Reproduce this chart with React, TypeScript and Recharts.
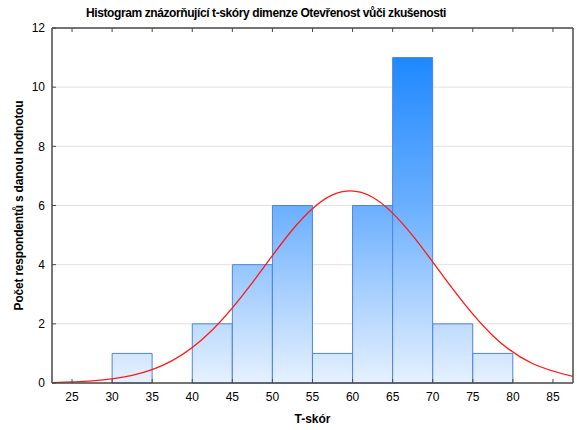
import React from 'react';
import { ComposedChart, Bar, Line, XAxis, YAxis, CartesianGrid, Label } from 'recharts';

// bin centres (bins of width 5)
const binCenters = [22.5, 27.5, 32.5, 37.5, 42.5, 47.5, 52.5, 57.5, 62.5, 67.5, 72.5, 77.5, 82.5, 87.5];
// number of respondents in each bin
const counts = [0, 0, 1, 0, 2, 4, 6, 1, 6, 11, 2, 1, 0, 0];
// fitted normal curve read at the bin centres
const curve = [0.015, 0.07, 0.257, 0.755, 1.79, 3.39, 5.18, 6.36, 6.28, 4.98, 3.18, 1.6, 0.65, 0.22];

const xTicks = [25, 30, 35, 40, 45, 50, 55, 60, 65, 70, 75, 80, 85];
const yTicks = [0, 2, 4, 6, 8, 10, 12];

const title = 'Histogram znázorňující t-skóry dimenze Otevřenost vůči zkušenosti';
const xTitle = 'T-skór';
const yTitle = 'Počet respondentů s danou hodnotou';

const data = binCenters.map((x, i) => ({ x, count: counts[i], fit: curve[i] }));

const FONT = '"Liberation Sans", Arial, sans-serif';
const tickStyle = { fontSize: 12, fill: '#000', fontFamily: FONT };
const axisColor = '#4a4a4a';

export default function App() {
  return (
    <div style={{ position: 'absolute', left: 0, top: 0, width: 577, height: 430, background: '#fff' }}>
      <div
        style={{
          position: 'absolute',
          left: 0,
          top: 6,
          width: 532,
          textAlign: 'center',
          fontFamily: FONT,
          fontWeight: 'bold',
          fontSize: 12,
          lineHeight: '14px',
          letterSpacing: '-0.4px',
          color: '#000',
          whiteSpace: 'nowrap',
        }}
      >
        {title}
      </div>
      <ComposedChart
        width={577}
        height={430}
        data={data}
        margin={{ top: 0, right: 0, bottom: 0, left: 0 }}
        barCategoryGap={0}
        barGap={0}
      >
        <defs>
          <linearGradient id="barGrad" gradientUnits="userSpaceOnUse" x1="0" y1="28" x2="0" y2="383">
            <stop offset="0" stopColor="#147FFF" />
            <stop offset="0.08" stopColor="#1E88FF" />
            <stop offset="0.5" stopColor="#6AAFFF" />
            <stop offset="0.75" stopColor="#A9D0FF" />
            <stop offset="1" stopColor="#E6F1FF" />
          </linearGradient>
        </defs>
        <CartesianGrid horizontal vertical={false} stroke="#e2e2e2" strokeWidth={1} />
        <XAxis
          dataKey="x"
          type="number"
          domain={[22.5, 87.5]}
          ticks={xTicks}
          allowDataOverflow
          height={47}
          tick={tickStyle}
          tickSize={-4}
          tickMargin={13}
          stroke={axisColor}
          axisLine={{ stroke: axisColor, strokeWidth: 1.5 }}
          tickLine={{ stroke: axisColor }}
          interval={0}
        >
          <Label
            value={xTitle}
            position="insideBottom"
            offset={7}
            style={{ fontSize: 12, fontWeight: 'bold', fill: '#000', fontFamily: FONT }}
          />
        </XAxis>
        <XAxis
          xAxisId="top"
          orientation="top"
          type="number"
          dataKey="x"
          domain={[22.5, 87.5]}
          ticks={xTicks}
          allowDataOverflow
          height={28}
          tickFormatter={() => ''}
          tickSize={-4}
          stroke={axisColor}
          axisLine={{ stroke: axisColor, strokeWidth: 1.5 }}
          tickLine={{ stroke: axisColor }}
          interval={0}
        />
        <YAxis
          type="number"
          domain={[0, 12]}
          ticks={yTicks}
          width={52}
          tick={tickStyle}
          tickSize={-4}
          tickMargin={11}
          stroke={axisColor}
          axisLine={{ stroke: axisColor, strokeWidth: 1.5 }}
          tickLine={{ stroke: axisColor }}
          interval={0}
        >
          <Label
            value={yTitle}
            angle={-90}
            position="insideLeft"
            offset={19}
            style={{ textAnchor: 'middle', fontSize: 12, fontWeight: 'bold', fill: '#000', fontFamily: FONT, letterSpacing: '-0.2px' }}
          />
        </YAxis>
        <YAxis
          yAxisId="right"
          orientation="right"
          type="number"
          domain={[0, 12]}
          ticks={yTicks}
          width={4}
          tickFormatter={() => ''}
          tickSize={-4}
          stroke={axisColor}
          axisLine={{ stroke: axisColor, strokeWidth: 1.5 }}
          tickLine={{ stroke: axisColor }}
          interval={0}
        />
        <Bar
          dataKey="count"
          fill="url(#barGrad)"
          stroke="#4F84DD"
          strokeWidth={1}
          isAnimationActive={false}
        />
        <Line
          dataKey="fit"
          type="natural"
          stroke="#FF1A1A"
          strokeWidth={1.3}
          dot={false}
          activeDot={false}
          isAnimationActive={false}
        />
      </ComposedChart>
    </div>
  );
}
